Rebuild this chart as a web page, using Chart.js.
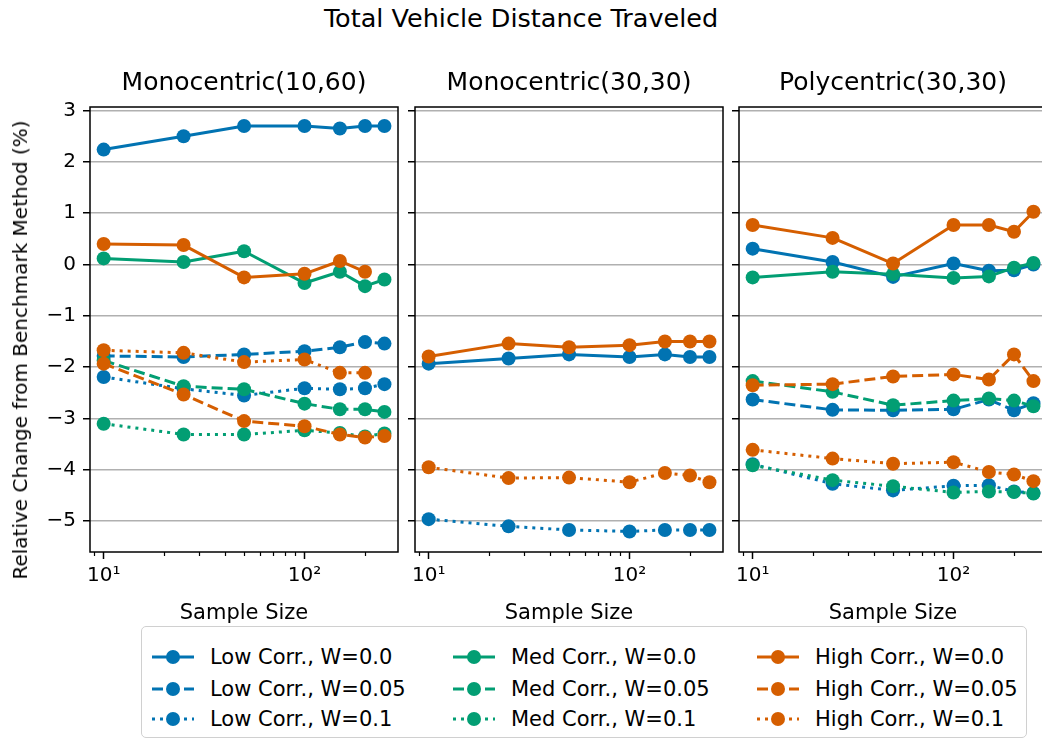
<!DOCTYPE html>
<html>
<head>
<meta charset="utf-8">
<script src="https://cdn.jsdelivr.net/npm/chart.js@4.4.1/dist/chart.umd.min.js"></script>
<style>
  html, body { margin: 0; padding: 0; background: #fff; overflow: hidden; }
  #fig { position: relative; width: 1042px; height: 740px; overflow: hidden;
         font-family: 'DejaVu Sans', sans-serif; color: #000; background: #fff; }
  #fig canvas { position: absolute; left: 0; top: 0; }
  #suptitle { position: absolute; left: 0; top: 5px; width: 1042px; text-align: center;
              font-size: 25.5px; line-height: 26px; }
  #ylabel { position: absolute; left: 20px; top: 350px; font-size: 20px; line-height: 20px;
            white-space: nowrap; transform: translate(-50%, -50%) rotate(-90deg); }
  #legend { position: absolute; left: 141px; top: 626px; width: 886px; height: 112px;
            border: 1px solid #d0d0d0; border-radius: 5px; background: #fff; box-sizing: border-box; }
  .lg-item { position: absolute; height: 24px; }
  .lg-item svg { position: absolute; left: 0; top: 2px; }
  .lg-item span { position: absolute; left: 60px; top: 0; font-size: 21px; line-height: 24px; white-space: nowrap; }
</style>
</head>
<body>
<div id="fig">
  <div id="suptitle">Total Vehicle Distance Traveled</div>
  <canvas id="p0" width="1060" height="740"></canvas>
  <canvas id="p1" width="1060" height="740"></canvas>
  <canvas id="p2" width="1060" height="740"></canvas>
  <div id="ylabel">Relative Change from Benchmark Method (%)</div>
  <div id="legend"></div>
</div>
<script>
// ---- data ----
const SAMPLE_SIZES = [10, 25, 50, 100, 150, 200, 250];
const PANEL_TITLES = ['Monocentric(10,60)', 'Monocentric(30,30)', 'Polycentric(30,30)'];
const Y_TICKS = [-5, -4, -3, -2, -1, 0, 1, 2, 3];
const X_MAJOR_TICKS = [10, 100];
const X_MAJOR_LABELS = ['10\u00B9', '10\u00B2'];
const X_MINOR_TICKS = [9, 20, 30, 40, 50, 60, 70, 80, 90, 200];
const X_TITLE = 'Sample Size';

// legend order: column by correlation level, row by W
const SERIES_LABELS = [
  'Low Corr., W=0.0', 'Low Corr., W=0.05', 'Low Corr., W=0.1',
  'Med Corr., W=0.0', 'Med Corr., W=0.05', 'Med Corr., W=0.1',
  'High Corr., W=0.0', 'High Corr., W=0.05', 'High Corr., W=0.1'
];

// Monocentric(10,60)
const mono1060Low00  = [2.24, 2.50, 2.70, 2.70, 2.65, 2.70, 2.70];
const mono1060Low05  = [-1.78, -1.80, -1.75, -1.69, -1.61, -1.51, -1.54];
const mono1060Low10  = [-2.19, -2.42, -2.55, -2.41, -2.43, -2.41, -2.33];
const mono1060Med00  = [0.12, 0.05, 0.26, -0.36, -0.14, -0.42, -0.29];
const mono1060Med05  = [-1.87, -2.37, -2.43, -2.71, -2.82, -2.82, -2.87];
const mono1060Med10  = [-3.10, -3.31, -3.31, -3.23, -3.28, -3.35, -3.29];
const mono1060High00 = [0.40, 0.38, -0.25, -0.18, 0.07, -0.14, null];
const mono1060High05 = [-1.93, -2.53, -3.05, -3.15, -3.31, -3.37, -3.34];
const mono1060High10 = [-1.67, -1.72, -1.90, -1.85, -2.11, -2.11, null];

// Monocentric(30,30)
const mono3030Low00  = [-1.93, -1.83, -1.75, -1.80, -1.75, -1.80, -1.80];
const mono3030Low05  = [null, null, null, null, null, null, null];
const mono3030Low10  = [-4.96, -5.10, -5.17, -5.20, -5.17, -5.17, -5.17];
const mono3030Med00  = [null, null, null, null, null, null, null];
const mono3030Med05  = [null, null, null, null, null, null, null];
const mono3030Med10  = [null, null, null, null, null, null, null];
const mono3030High00 = [-1.79, -1.54, -1.61, -1.57, -1.50, -1.50, -1.50];
const mono3030High05 = [null, null, null, null, null, null, null];
const mono3030High10 = [-3.95, -4.16, -4.15, -4.24, -4.06, -4.11, -4.24];

// Polycentric(30,30)
const poly3030Low00  = [0.31, 0.05, -0.24, 0.02, -0.12, -0.11, 0.00];
const poly3030Low05  = [-2.63, -2.83, -2.84, -2.82, -2.63, -2.84, -2.70];
const poly3030Low10  = [-3.89, -4.27, -4.40, -4.31, -4.30, -4.42, -4.45];
const poly3030Med00  = [-0.25, -0.14, -0.19, -0.26, -0.23, -0.06, 0.03];
const poly3030Med05  = [-2.27, -2.48, -2.74, -2.65, -2.61, -2.65, -2.76];
const poly3030Med10  = [-3.91, -4.20, -4.32, -4.44, -4.42, -4.43, -4.46];
const poly3030High00 = [0.77, 0.52, 0.02, 0.77, 0.77, 0.64, 1.03];
const poly3030High05 = [-2.35, -2.33, -2.18, -2.14, -2.24, -1.75, -2.27];
const poly3030High10 = [-3.61, -3.78, -3.88, -3.85, -4.04, -4.09, -4.22];

const PANEL_SERIES = [
  [mono1060Low00, mono1060Low05, mono1060Low10, mono1060Med00, mono1060Med05, mono1060Med10, mono1060High00, mono1060High05, mono1060High10],
  [mono3030Low00, mono3030Low05, mono3030Low10, mono3030Med00, mono3030Med05, mono3030Med10, mono3030High00, mono3030High05, mono3030High10],
  [poly3030Low00, poly3030Low05, poly3030Low10, poly3030Med00, poly3030Med05, poly3030Med10, poly3030High00, poly3030High05, poly3030High10]
];

// ---- styles ----
const BLUE = '#0173b2', GREEN = '#029e73', ORANGE = '#d55e00';
const SERIES_COLORS = [BLUE, BLUE, BLUE, GREEN, GREEN, GREEN, ORANGE, ORANGE, ORANGE];
const SOLID = [], DASHED = [11, 5], DOTTED = [3, 5];
const SERIES_DASHES = [SOLID, DASHED, DOTTED, SOLID, DASHED, DOTTED, SOLID, DASHED, DOTTED];

const FONT = "'DejaVu Sans', sans-serif";
const CANVAS_W = 1060, CANVAS_H = 740;
const PLOT_TOP = 107, PLOT_BOTTOM = 552;
const PLOT_LEFTS = [90, 415, 739];
const PLOT_WIDTH = 308;
const X_AXIS_H = 75;
const TITLE_TOP = 68, TITLE_SIZE = 25;
const Y_MIN = -5.6, Y_MAX = 3.07;
const X_MIN = 8.55, X_MAX = 292;

Chart.defaults.font.family = FONT;

const minus = v => (v < 0 ? '\u2212' + Math.abs(v) : String(v));

// box around each plot area plus minor log ticks
const framePlugin = {
  id: 'frame',
  afterDraw(chart) {
    const { ctx, chartArea: { left, top, right, bottom }, scales: { x } } = chart;
    ctx.save();
    ctx.strokeStyle = '#000';
    ctx.lineWidth = 1.2;
    X_MINOR_TICKS.forEach(v => {
      if (v < x.min || v > x.max) return;
      const px = Math.round(x.getPixelForValue(v)) + 0.5;
      ctx.beginPath();
      ctx.moveTo(px, bottom);
      ctx.lineTo(px, bottom + 4);
      ctx.stroke();
    });
    ctx.lineWidth = 1.5;
    ctx.strokeRect(left, top, right - left, bottom - top);
    ctx.restore();
  }
};

function makePanel(idx) {
  const first = idx === 0;
  const yAxisW = first ? 90 : 7;
  const plotLeft = PLOT_LEFTS[idx];
  const plotRight = plotLeft + PLOT_WIDTH;
  const series = PANEL_SERIES[idx];

  const datasets = series.map((vals, i) => ({
    label: SERIES_LABELS[i],
    data: SAMPLE_SIZES.map((s, j) => ({ x: s, y: vals[j] })),
    borderColor: SERIES_COLORS[i],
    backgroundColor: SERIES_COLORS[i],
    pointBackgroundColor: SERIES_COLORS[i],
    borderWidth: 3,
    borderDash: SERIES_DASHES[i],
    borderCapStyle: 'butt',
    borderJoinStyle: 'round',
    pointRadius: 7,
    pointHoverRadius: 7,
    pointBorderWidth: 0,
    fill: false,
    tension: 0,
    spanGaps: false,
    order: series.length - i
  }));

  new Chart(document.getElementById('p' + idx), {
    type: 'line',
    data: { datasets },
    options: {
      responsive: false,
      animation: false,
      devicePixelRatio: 1,
      events: [],
      layout: {
        padding: {
          left: plotLeft - yAxisW,
          right: CANVAS_W - plotRight,
          top: TITLE_TOP,
          bottom: CANVAS_H - PLOT_BOTTOM - X_AXIS_H
        }
      },
      plugins: {
        legend: { display: false },
        tooltip: { enabled: false },
        title: {
          display: true,
          fullSize: false,
          text: PANEL_TITLES[idx],
          color: '#000',
          font: { family: FONT, size: TITLE_SIZE, weight: 'normal', lineHeight: 1.2 },
          padding: { top: 0, bottom: PLOT_TOP - TITLE_TOP - TITLE_SIZE * 1.2 }
        }
      },
      scales: {
        x: {
          type: 'logarithmic',
          min: X_MIN,
          max: X_MAX,
          afterBuildTicks: s => { s.ticks = X_MAJOR_TICKS.map(v => ({ value: v, major: true })); },
          afterFit: s => { s.height = X_AXIS_H; },
          ticks: {
            autoSkip: false, maxRotation: 0, minRotation: 0,
            color: '#000', padding: 5,
            font: { family: FONT, size: 20 },
            callback: v => X_MAJOR_LABELS[X_MAJOR_TICKS.indexOf(v)]
          },
          grid: { drawOnChartArea: false, drawTicks: true, tickLength: 7, tickWidth: 1.5, tickColor: '#000' },
          border: { display: false },
          title: {
            display: true, text: X_TITLE, color: '#000',
            font: { family: FONT, size: 21, lineHeight: 1.2 },
            padding: { top: 0, bottom: 1 }
          }
        },
        y: {
          type: 'linear',
          min: Y_MIN,
          max: Y_MAX,
          afterBuildTicks: s => { s.ticks = Y_TICKS.map(v => ({ value: v })); },
          afterFit: s => { s.width = yAxisW; },
          ticks: {
            display: first,
            color: '#000', padding: 7,
            font: { family: FONT, size: 20 },
            callback: v => minus(v)
          },
          grid: { color: '#b0b0b0', lineWidth: 1.5, drawTicks: true, tickLength: 7, tickWidth: 1.5, tickColor: '#000' },
          border: { display: false }
        }
      }
    },
    plugins: [framePlugin]
  });
}

[0, 1, 2].forEach(makePanel);

// ---- legend (three columns: Low / Med / High) ----
const LEGEND_COL_X = [8, 309, 613];
const LEGEND_ROW_Y = [30, 62, 92];
const legendEl = document.getElementById('legend');
SERIES_LABELS.forEach((label, i) => {
  const col = Math.floor(i / 3), row = i % 3;
  const item = document.createElement('div');
  item.className = 'lg-item';
  item.style.left = LEGEND_COL_X[col] + 'px';
  item.style.top = (LEGEND_ROW_Y[row] - 12) + 'px';
  const dash = SERIES_DASHES[i].length ? SERIES_DASHES[i].join(' ') : 'none';
  item.innerHTML =
    '<svg width="46" height="20" viewBox="0 0 46 20">' +
    '<line x1="2" y1="10" x2="44" y2="10" stroke="' + SERIES_COLORS[i] + '" stroke-width="3" stroke-dasharray="' + dash + '" />' +
    '<circle cx="23" cy="10" r="7" fill="' + SERIES_COLORS[i] + '" /></svg>' +
    '<span>' + label + '</span>';
  legendEl.appendChild(item);
});
</script>
</body>
</html>
